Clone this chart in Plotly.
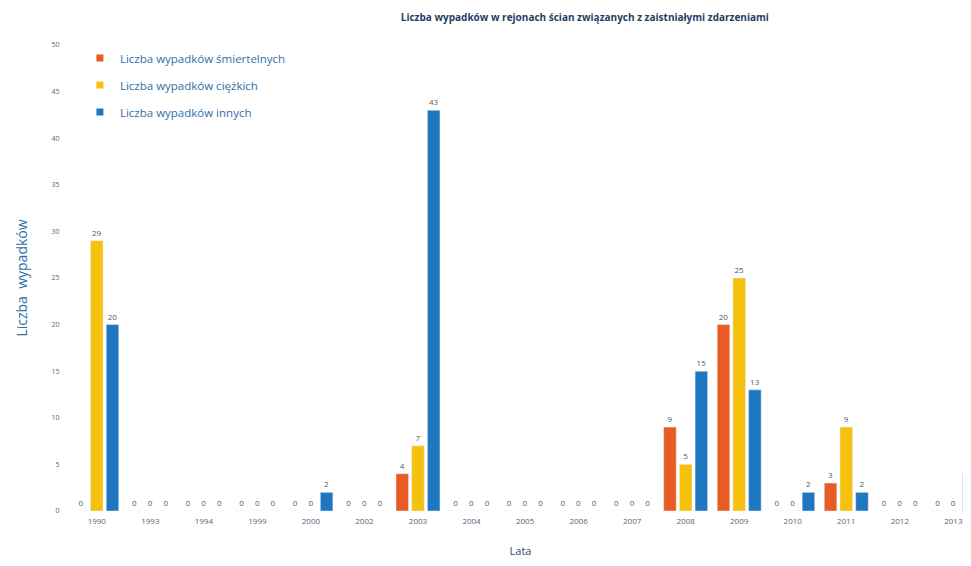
import plotly.graph_objects as go

years = ["1990", "1993", "1994", "1999", "2000", "2002", "2003", "2004", "2005",
         "2006", "2007", "2008", "2009", "2010", "2011", "2012", "2013"]
smiertelne = [0, 0, 0, 0, 0, 0, 4, 0, 0, 0, 0, 9, 20, 0, 3, 0, 0]
ciezkie = [29, 0, 0, 0, 0, 0, 7, 0, 0, 0, 0, 5, 25, 0, 9, 0, 0]
inne = [20, 0, 0, 0, 2, 0, 43, 0, 0, 0, 0, 15, 13, 2, 2, 0, 4]

series = [
    ("Liczba wypadków śmiertelnych", smiertelne, "#E85C24"),
    ("Liczba wypadków ciężkich", ciezkie, "#F5C10C"),
    ("Liczba wypadków innych", inne, "#1F77C0"),
]

fig = go.Figure()
for i, (name, vals, col) in enumerate(series):
    fig.add_trace(go.Bar(
        x=years, y=vals, name=name, marker_color=col, showlegend=False,
        text=[str(v) for v in vals], textposition="outside",
        textfont=dict(size=8, color="#4A5A70"), cliponaxis=False,
    ))
for i, (name, vals, col) in enumerate(series):
    fig.add_trace(go.Scatter(
        x=[None], y=[None], mode="markers", name=name, legendgroup=f"g{i}",
        marker=dict(symbol="square", size=7, color=col),
    ))

fig.update_layout(
    width=963, height=550,
    margin=dict(l=62, r=0, t=37, b=47),
    paper_bgcolor="white", plot_bgcolor="white",
    font=dict(family="Open Sans", color="#5A6478"),
    barmode="group", bargap=0.12, bargroupgap=0.2,
    title=dict(text="<b>Liczba wypadków w rejonach ścian związanych z zaistniałymi zdarzeniami</b>",
               x=0.599, xanchor="center", y=0.982, yanchor="middle",
               font=dict(size=10, color="#1F3F63")),
    legend=dict(x=0.011, y=1.003, xanchor="left", yanchor="top",
                font=dict(size=11.5, color="#2E6FA8"), itemwidth=30,
                tracegroupgap=8, bgcolor="rgba(0,0,0,0)"),
    showlegend=True,
    uniformtext=dict(minsize=7, mode="show"),
)
fig.update_xaxes(range=[-0.5, 16.33], tickfont=dict(size=8, color="#5A6478"),
                 showgrid=False, showline=False, ticks="outside", ticklen=2,
                 tickcolor="rgba(0,0,0,0)", automargin=False,
                 title=dict(text="Lata", font=dict(size=11, color="#2E4A6A"), standoff=36))
fig.update_yaxes(range=[0, 50], dtick=5, tickfont=dict(size=7, color="#5A6478"),
                 showgrid=False, zeroline=False, ticks="outside", ticklen=8,
                 tickcolor="rgba(0,0,0,0)", automargin=False,
                 title=dict(text="Liczba  wypadków", font=dict(size=14, color="#2E6FA8"), standoff=20))

fig.write_html("out.html")
